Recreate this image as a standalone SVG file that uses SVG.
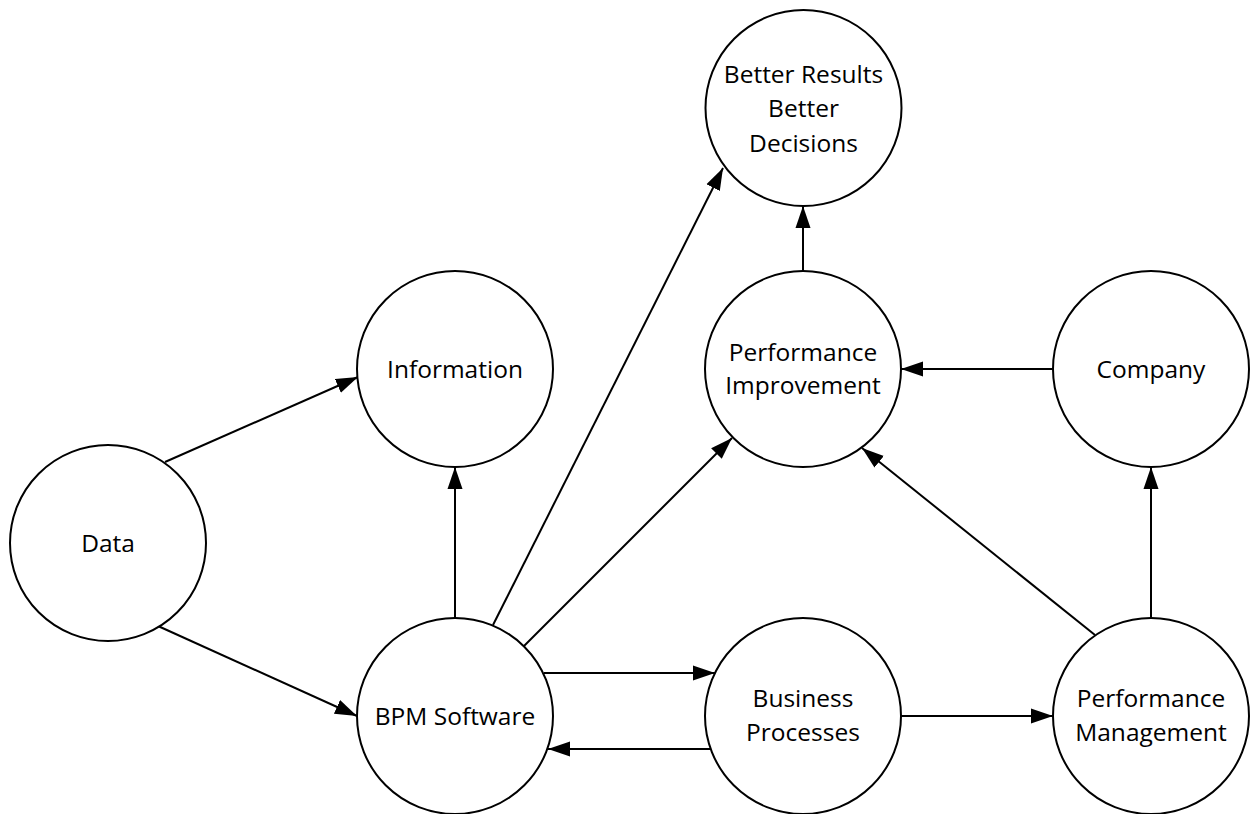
<svg xmlns="http://www.w3.org/2000/svg" width="1251" height="814" viewBox="0 0 1251 814">
  <style>
    .node circle { fill: #ffffff; stroke: #000000; stroke-width: 2; }
    .node text { font-family: "Open Sans", "Liberation Sans", sans-serif; font-size: 24.5px; fill: #000000; text-anchor: middle; }
    .edge { stroke: #000000; stroke-width: 2; fill: none; marker-end: url(#arrow); }
  </style>
  <defs>
    <marker id="arrow" markerUnits="userSpaceOnUse" markerWidth="22" markerHeight="16" refX="22" refY="8" orient="auto">
      <path d="M0,0.5 L22,8 L0,15.5 Z" fill="#000000"/>
    </marker>
  </defs>

  <rect x="0" y="0" width="1251" height="814" fill="#ffffff"/>

  <!-- connectors -->
  <g id="connectors">
    <line class="edge" x1="165" y1="462" x2="358" y2="377"/>
    <line class="edge" x1="158" y1="626" x2="357" y2="716"/>
    <line class="edge" x1="455" y1="618" x2="455" y2="467"/>
    <line class="edge" x1="493" y1="625" x2="723" y2="168"/>
    <line class="edge" x1="524" y1="646" x2="732" y2="438"/>
    <line class="edge" x1="544" y1="673" x2="715" y2="673"/>
    <line class="edge" x1="711" y1="749" x2="548" y2="749"/>
    <line class="edge" x1="901" y1="716" x2="1053" y2="716"/>
    <line class="edge" x1="1095" y1="635" x2="862" y2="448"/>
    <line class="edge" x1="1151" y1="618" x2="1151" y2="467"/>
    <line class="edge" x1="1053" y1="369" x2="901" y2="369"/>
    <line class="edge" x1="803" y1="271" x2="803" y2="206"/>
  </g>

  <!-- nodes -->
  <g id="node-results" class="node">
    <circle cx="803.5" cy="108" r="98"/>
    <text x="803.5" y="83">Better Results</text>
    <text x="803.5" y="117">Better</text>
    <text x="803.5" y="152">Decisions</text>
  </g>
  <g id="node-information" class="node">
    <circle cx="455" cy="369" r="98"/>
    <text x="455" y="378">Information</text>
  </g>
  <g id="node-improvement" class="node">
    <circle cx="803" cy="369" r="98"/>
    <text x="803" y="361">Performance</text>
    <text x="803" y="394">Improvement</text>
  </g>
  <g id="node-company" class="node">
    <circle cx="1151" cy="369" r="98"/>
    <text x="1151" y="378">Company</text>
  </g>
  <g id="node-data" class="node">
    <circle cx="108" cy="543" r="98"/>
    <text x="108" y="552">Data</text>
  </g>
  <g id="node-bpm" class="node">
    <circle cx="455" cy="716" r="98"/>
    <text x="455" y="725">BPM Software</text>
  </g>
  <g id="node-processes" class="node">
    <circle cx="803" cy="716" r="98"/>
    <text x="803" y="707">Business</text>
    <text x="803" y="741">Processes</text>
  </g>
  <g id="node-management" class="node">
    <circle cx="1151" cy="716" r="98"/>
    <text x="1151" y="707">Performance</text>
    <text x="1151" y="741">Management</text>
  </g>
</svg>
